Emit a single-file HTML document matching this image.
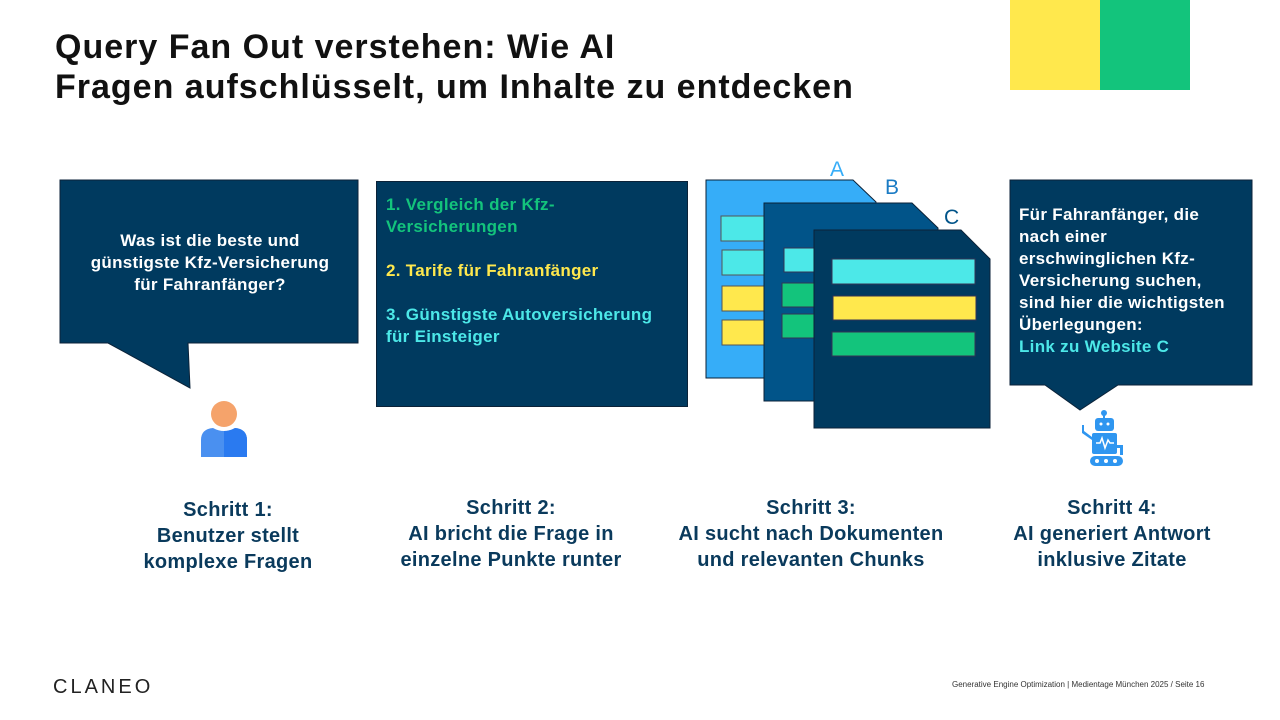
<!DOCTYPE html>
<html><head><meta charset="utf-8"><style>
body{margin:0;width:1280px;height:720px;background:#fff;position:relative;overflow:hidden;font-family:"Liberation Sans",sans-serif}
.a{position:absolute}
h1{position:absolute;left:55px;top:27px;margin:0;font-size:34px;line-height:40px;font-weight:bold;color:#111;letter-spacing:1.0px}
.box{position:absolute;background:#003a5f;border:1px solid #0b2238;color:#fff;font-weight:bold;font-size:17px;line-height:22px;letter-spacing:0.3px}
.step{position:absolute;width:300px;text-align:center;color:#0a3a5c;font-weight:bold;font-size:20px;line-height:26px;top:495px;letter-spacing:0.3px}
</style></head><body>
<h1>Query Fan Out verstehen: Wie AI<br>Fragen aufschlüsselt, um Inhalte zu entdecken</h1>
<div class="a" style="left:1010px;top:0;width:90px;height:90px;background:#ffe84d"></div>
<div class="a" style="left:1100px;top:0;width:90px;height:90px;background:#13c47c"></div>

<svg class="a" style="left:0;top:0" width="1280" height="720">
<polygon points="60,180 358,180 358,343 188,343 190,388 108,343 60,343" fill="#003a5f" stroke="#0b2238"/>
<polygon points="1010,180 1252,180 1252,385 1118,385 1080,410 1045,385 1010,385" fill="#003a5f" stroke="#0b2238"/>
<polygon points="706,180 853,180 876,202 876,378 706,378" fill="#36adf8" stroke="#0b2238"/>
<g stroke="#555" stroke-width="1">
<rect x="721" y="216" width="60" height="25" fill="#4ce8e8"/><rect x="722" y="250" width="60" height="25" fill="#4ce8e8"/>
<rect x="722" y="286" width="60" height="25" fill="#ffe84d"/><rect x="722" y="320" width="60" height="25" fill="#ffe84d"/>
</g>
<polygon points="764,203 912,203 938,228 938,401 764,401" fill="#015489" stroke="#0b2238"/>
<g stroke="#335" stroke-width="1">
<rect x="784" y="248" width="40" height="24" fill="#4ce8e8"/><rect x="782" y="283" width="40" height="24" fill="#13c47c"/><rect x="782" y="314" width="40" height="24" fill="#13c47c"/>
</g>
<polygon points="814,230 961,230 990,259 990,428 814,428" fill="#003a5f" stroke="#0b2238"/>
<g stroke="#335" stroke-width="1">
<rect x="832" y="259" width="143" height="25" fill="#4ce8e8"/><rect x="833" y="296" width="143" height="24" fill="#ffe84d"/><rect x="832" y="332" width="143" height="24" fill="#13c47c"/>
</g>
<text x="830" y="176" font-size="21" fill="#36adf8" font-family="Liberation Sans">A</text>
<text x="885" y="194" font-size="21" fill="#1a7bc4" font-family="Liberation Sans">B</text>
<text x="944" y="224" font-size="21" fill="#015489" font-family="Liberation Sans">C</text>
<circle cx="224" cy="414" r="13" fill="#f5a36b"/>
<path d="M201,457 V440 Q201,429 213,428 Q224,434 235,428 Q247,429 247,440 V457 Z" fill="#4a90f0"/>
<path d="M224,431 Q230,431 235,428 Q247,429 247,440 V457 H224Z" fill="#2a7af0"/>
<g fill="#2f96f0">
<circle cx="1104" cy="413" r="3"/><rect x="1103" y="413" width="2" height="5"/>
<rect x="1095" y="418" width="19" height="13" rx="3"/>
<rect x="1092" y="433" width="25" height="21" rx="2"/>
<rect x="1090" y="456" width="33" height="10" rx="5"/>
<path d="M1084,425 v6 l8,6 v3 l-10,-7 v-8z"/>
<path d="M1117,445 h6 v10 h-3 v-7 h-3z"/>
</g>
<g fill="#fff"><circle cx="1101" cy="424" r="1.5"/><circle cx="1108" cy="424" r="1.5"/>
<circle cx="1097" cy="461" r="2"/><circle cx="1106" cy="461" r="2"/><circle cx="1115" cy="461" r="2"/></g>
<polyline points="1096,443 1100,443 1102,438 1105,448 1108,440 1110,443 1114,443" fill="none" stroke="#fff" stroke-width="1.5"/>
</svg>

<div class="a" style="left:64px;top:230px;width:292px;text-align:center;color:#fff;font-weight:bold;font-size:17px;line-height:22px;letter-spacing:0.3px">Was ist die beste und<br>günstigste Kfz-Versicherung<br>für Fahranfänger?</div>

<div class="box" style="left:376px;top:181px;width:310px;height:224px">
<div style="position:absolute;left:9px;top:12px;width:296px">
<div style="color:#13c47c">1. Vergleich der Kfz-<br>Versicherungen</div>
<div style="color:#ffe84d;margin-top:22px">2. Tarife für Fahranfänger</div>
<div style="color:#4ce8e8;margin-top:22px">3. Günstigste Autoversicherung<br>für Einsteiger</div>
</div></div>

<div class="a" style="left:1019px;top:204px;width:232px;color:#fff;font-weight:bold;font-size:17px;line-height:22px;letter-spacing:0.3px">Für Fahranfänger, die<br>nach einer<br>erschwinglichen Kfz-<br>Versicherung suchen,<br>sind hier die wichtigsten<br>Überlegungen:<br><span style="color:#4ce8e8">Link zu Website C</span></div>

<div class="step" style="left:78px;top:497px">Schritt 1:<br>Benutzer stellt<br>komplexe Fragen</div>
<div class="step" style="left:361px">Schritt 2:<br>AI bricht die Frage in<br>einzelne Punkte runter</div>
<div class="step" style="left:661px">Schritt 3:<br>AI sucht nach Dokumenten<br>und relevanten Chunks</div>
<div class="step" style="left:962px">Schritt 4:<br>AI generiert Antwort<br>inklusive Zitate</div>

<div class="a" style="left:53px;top:676px;font-size:20px;letter-spacing:3px;color:#222">CLANEO</div>
<div class="a" style="left:952px;top:680px;font-size:8px;color:#333">Generative Engine Optimization | Medientage München 2025 / Seite 16</div>
</body></html>
